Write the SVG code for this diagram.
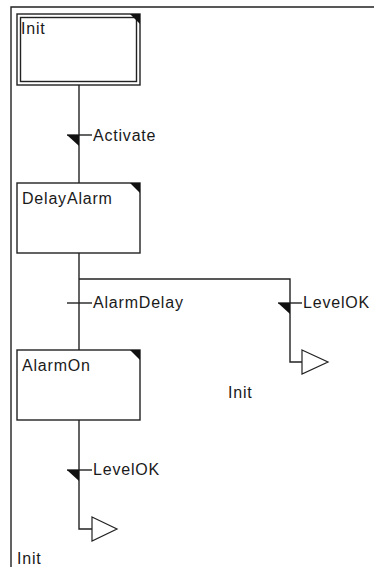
<svg xmlns="http://www.w3.org/2000/svg" width="374" height="567" viewBox="0 0 374 567">
<style>
.ln{stroke:#222;stroke-width:1.4;fill:none}
.box{stroke:#222;stroke-width:1.4;fill:#fff}
.t{font-family:"Liberation Sans",Arial,sans-serif;font-size:16px;letter-spacing:0.8px;fill:#1a1a1a}
.blk{fill:#111;stroke:none}
.open{fill:#fff;stroke:#222;stroke-width:1.2}
</style>
<rect width="374" height="567" fill="#fff"/>
<g id="frame">
<path class="ln" d="M11,567 V7 H374"/>
</g>
<g id="connectors">
<path class="ln" d="M79,85 V183"/>
<path class="ln" d="M67,135 H92"/>
<path class="blk" d="M67,135 H79 V146 Z"/>
<path class="ln" d="M79,253 V350"/>
<path class="ln" d="M79,279 H290 V362 H302"/>
<path class="ln" d="M67,303 H92"/>
<path class="ln" d="M278,303 H302"/>
<path class="blk" d="M278,303 H290 V314 Z"/>
<path class="open" d="M302,350 L328,362 L302,374 Z"/>
<path class="ln" d="M79,420 V529 H92"/>
<path class="ln" d="M67,470 H92"/>
<path class="blk" d="M67,470 H79 V481 Z"/>
<path class="open" d="M92,517 L117,529 L92,541 Z"/>
</g>
<g id="Init">
<rect class="box" x="17" y="14" width="123" height="71"/>
<rect class="box" x="20.5" y="17.5" width="116" height="64"/>
<path class="blk" d="M130,14 H140 V24 Z"/>
<text class="t" x="21" y="34">Init</text>
</g>
<g id="DelayAlarm">
<rect class="box" x="17" y="183" width="123" height="70"/>
<path class="blk" d="M130,183 H140 V193 Z"/>
<text class="t" x="22" y="204">DelayAlarm</text>
</g>
<g id="AlarmOn">
<rect class="box" x="17" y="350" width="123" height="70"/>
<path class="blk" d="M130,350 H140 V360 Z"/>
<text class="t" x="22" y="371">AlarmOn</text>
</g>
<g id="labels">
<text class="t" x="93" y="141">Activate</text>
<text class="t" x="93" y="308">AlarmDelay</text>
<text class="t" x="303" y="308">LevelOK</text>
<text class="t" x="228" y="398">Init</text>
<text class="t" x="93" y="475">LevelOK</text>
<text class="t" x="17" y="564">Init</text>
</g>
</svg>
